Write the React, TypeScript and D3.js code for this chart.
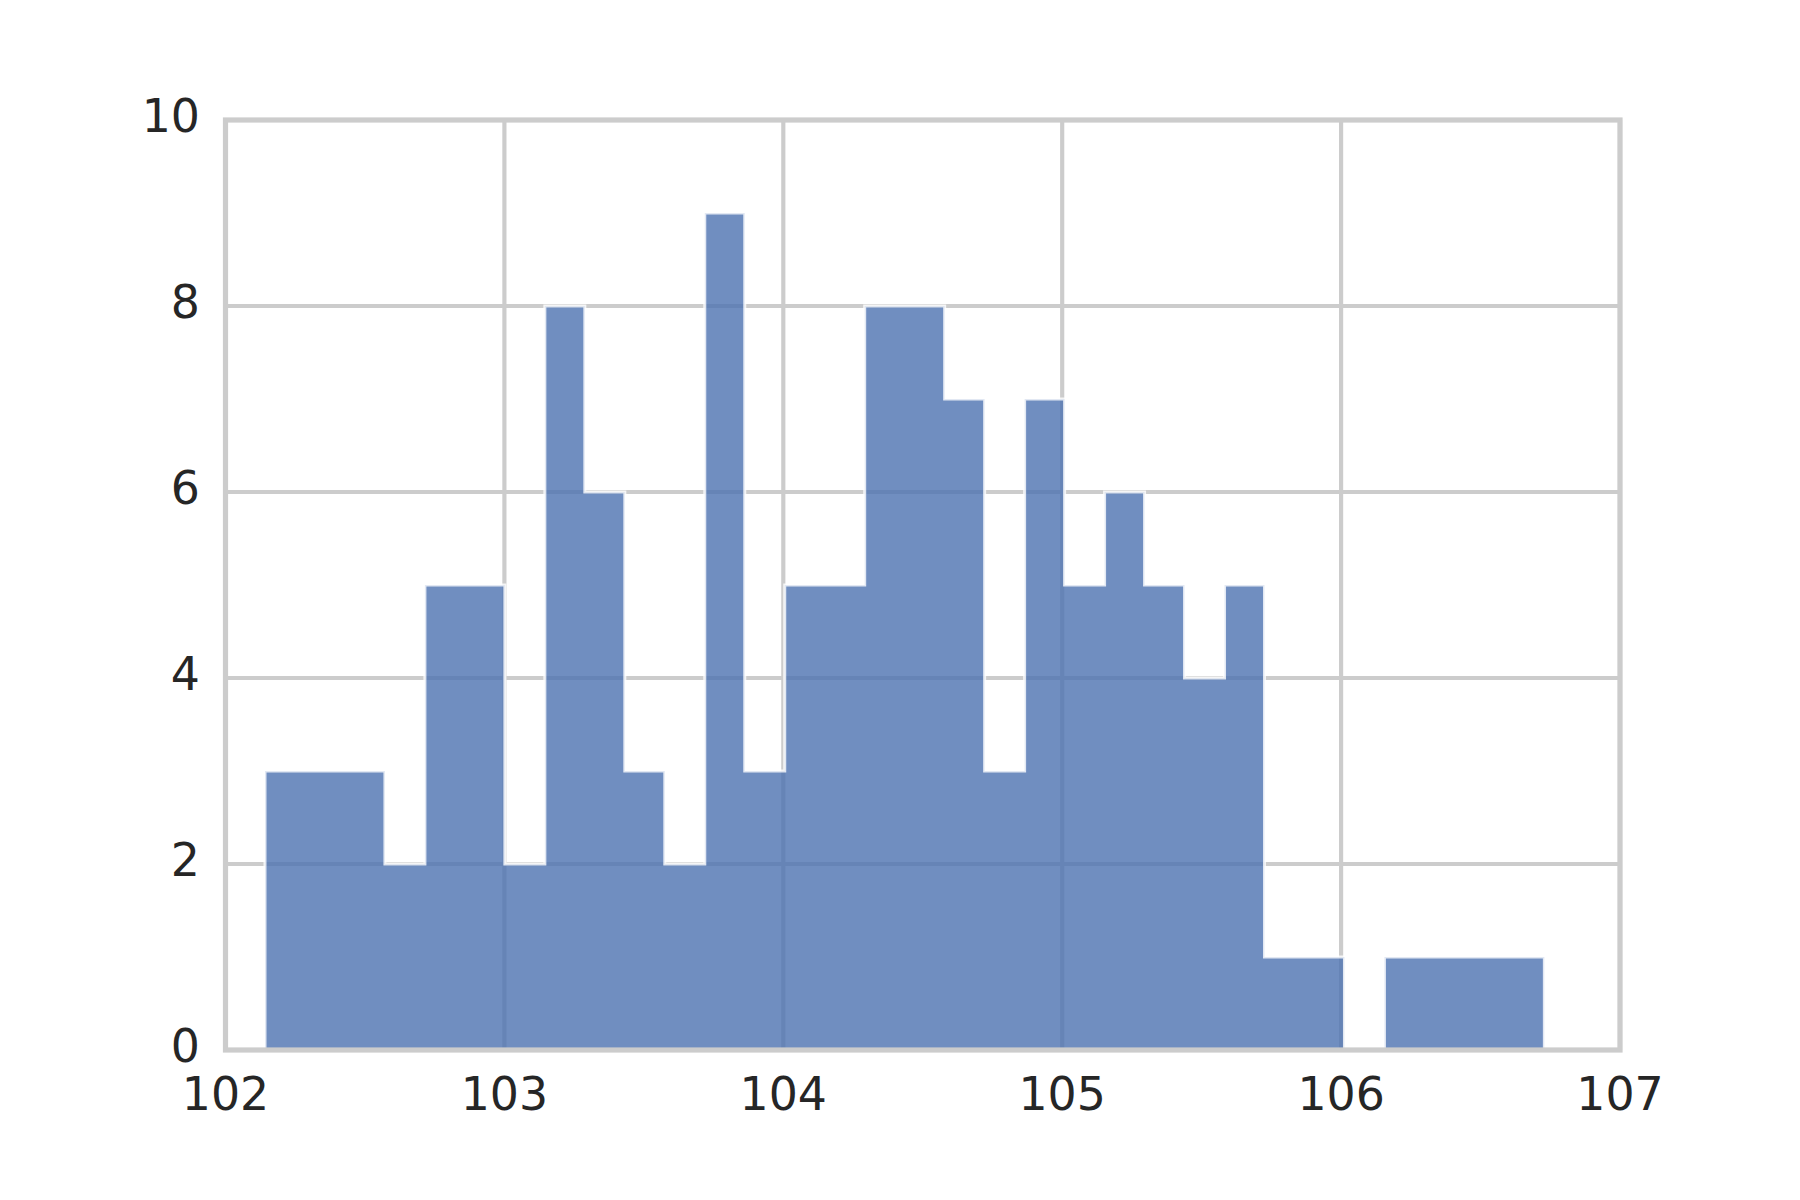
import React from "react";
import * as d3 from "d3";

// Histogram data (32 equal-width bins)
const binStart = 102.1416;
const binWidth = 0.14335;
const counts = [3, 3, 3, 2, 5, 5, 2, 8, 6, 3, 2, 9, 3, 5, 5, 8, 8, 7, 3, 7, 5, 6, 5, 4, 5, 1, 1, 0, 1, 1, 1, 1];
const xTicks = [102, 103, 104, 105, 106, 107];
const yTicks = [0, 2, 4, 6, 8, 10];
const xDomain = [102, 107];
const yDomain = [0, 10];

const W = 1800;
const H = 1200;
const left = 225.5;
const right = 1620;
const top = 120;
const bottom = 1050;

export default function App() {
  const x = d3.scaleLinear().domain(xDomain).range([left, right]);
  const y = d3.scaleLinear().domain(yDomain).range([bottom, top]);

  const pts: [number, number][] = counts.map((c, i) => [binStart + i * binWidth, c]);
  pts.push([binStart + counts.length * binWidth, counts[counts.length - 1]]);

  const area = d3
    .area<[number, number]>()
    .x((d) => x(d[0]))
    .y0(y(0))
    .y1((d) => y(d[1]))
    .curve(d3.curveStepAfter);

  const gridColor = "#cccccc";
  const textColor = "#262626";
  const font = "'DejaVu Sans', sans-serif";

  return (
    <svg
      width={W}
      height={H}
      style={{ position: "absolute", left: 0, top: 0, background: "#ffffff" }}
    >
      <rect x={0} y={0} width={W} height={H} fill="#ffffff" />
      {/* grid */}
      {xTicks.map((t) => (
        <line key={"gx" + t} x1={x(t)} x2={x(t)} y1={top} y2={bottom} stroke={gridColor} strokeWidth={4.17} />
      ))}
      {yTicks.map((t) => (
        <line key={"gy" + t} x1={left} x2={right} y1={y(t)} y2={y(t)} stroke={gridColor} strokeWidth={4.17} />
      ))}
      {/* histogram */}
      <path
        d={area(pts) || ""}
        fill="#4c72b0"
        fillOpacity={0.8}
        stroke="#ffffff"
        strokeOpacity={0.8}
        strokeWidth={3}
        strokeLinejoin="miter"
      />
      {/* spines */}
      <rect
        x={left}
        y={top}
        width={right - left}
        height={bottom - top}
        fill="none"
        stroke={gridColor}
        strokeWidth={5.2}
        strokeLinejoin="miter"
      />
      {/* tick labels */}
      {yTicks.map((t) => (
        <text
          key={"ly" + t}
          x={200}
          y={y(t) + 12}
          textAnchor="end"
          fontFamily={font}
          fontSize={45.8}
          fill={textColor}
        >
          {t}
        </text>
      ))}
      {xTicks.map((t) => (
        <text
          key={"lx" + t}
          x={x(t)}
          y={1110}
          textAnchor="middle"
          fontFamily={font}
          fontSize={45.8}
          fill={textColor}
        >
          {t}
        </text>
      ))}
    </svg>
  );
}
